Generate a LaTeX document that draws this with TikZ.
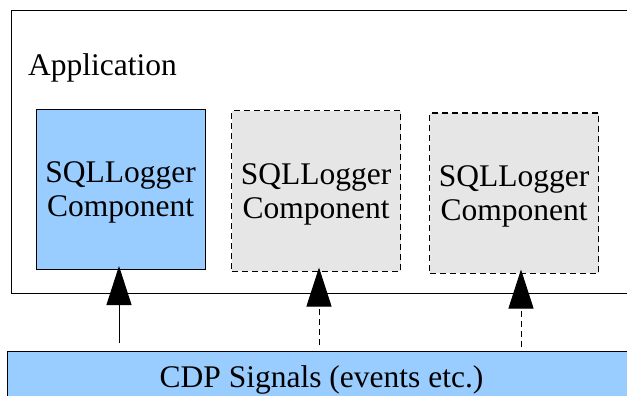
\documentclass[tikz,border=0pt]{standalone}
\usepackage{fontspec}
\setmainfont{Liberation Serif}
\usetikzlibrary{arrows.meta}
\definecolor{compblue}{HTML}{99CCFF}
\definecolor{compgray}{HTML}{E6E6E6}
\begin{document}
\begin{tikzpicture}[x=1pt,y=-1pt,
  bigtext/.style={font=\fontsize{31.5}{34}\selectfont},
  compbox/.style={draw=black,line width=1pt,minimum width=169pt,minimum height=160pt,inner sep=0pt},
  comptext/.style={bigtext,align=center,inner sep=0pt},
  solidcomp/.style={compbox,fill=compblue},
  ghostcomp/.style={compbox,fill=compgray,dash pattern=on 6pt off 4pt},
  sig/.style={line width=1pt,-{Triangle[width=25pt,length=39pt]},shorten >=-4pt,shorten <=8pt},
  sigdash/.style={sig,dash pattern=on 6pt off 4pt}
]
\useasboundingbox (0,0) rectangle (627,396);
\begin{scope}
\clip (0,0) rectangle (627,396);
\fill[white] (0,0) rectangle (627,396);
% Application container
\draw[line width=1pt] (11,11) rectangle (650,293);
\node[bigtext,anchor=base west,inner sep=0pt] (apptitle) at (28,76) {Application};
% CDP signals
\draw[line width=1pt,fill=compblue] (7,351) rectangle (650,420);
\node[bigtext,anchor=base,inner sep=0pt] (cdptext) at (321.5,387) {CDP Signals (events etc.)};
\end{scope}
% Components
\node[solidcomp] (c1) at (120.5,189.5) {};
\node[ghostcomp] (c2) at (316,191) {};
\node[ghostcomp] (c3) at (514,193) {};
\node[comptext] (t1) at ([yshift=-3pt]c1.center) {SQLLogger\\Component};
\node[comptext] (t2) at ([yshift=-3pt]c2.center) {SQLLogger\\Component};
\node[comptext] (t3) at ([yshift=-3pt]c3.center) {SQLLogger\\Component};
% Signal arrows
\coordinate (s1) at (119,351);
\coordinate (s2) at (319,353);
\coordinate (s3) at (521,355);
\draw[sig] (s1) -- (c1.south -| s1);
\draw[sigdash] (s2) -- (c2.south -| s2);
\draw[sigdash] (s3) -- (c3.south -| s3);
\end{tikzpicture}
\end{document}
